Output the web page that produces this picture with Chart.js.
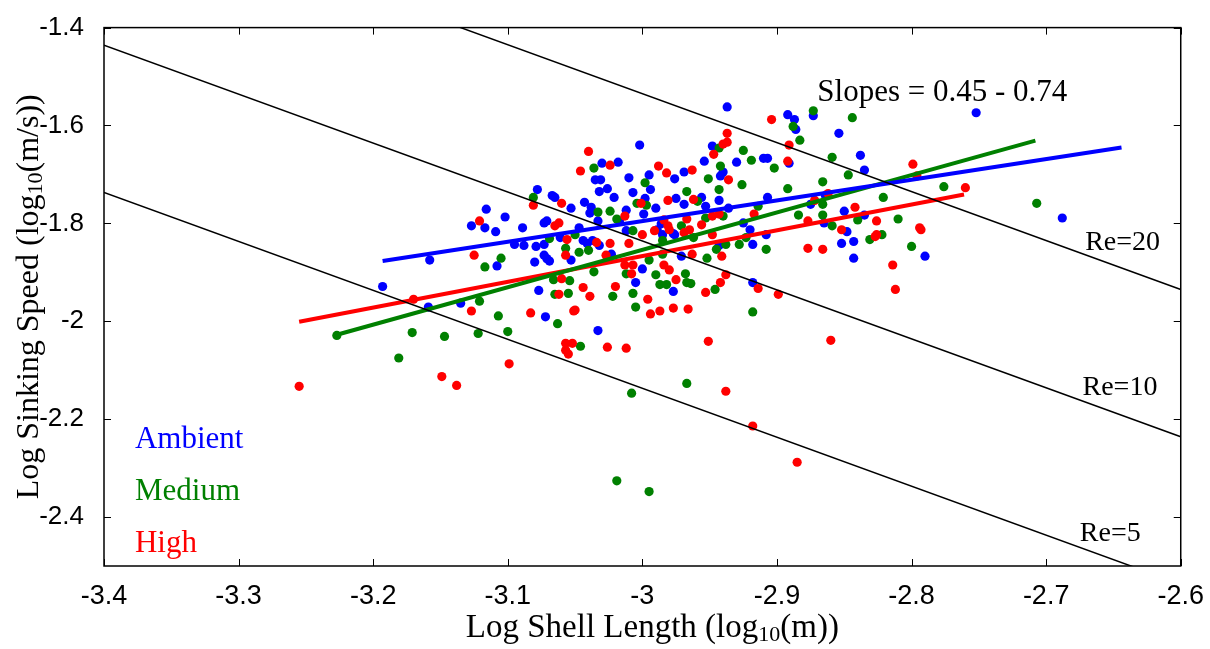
<!DOCTYPE html>
<html>
<head>
<meta charset="utf-8">
<script src="https://cdn.jsdelivr.net/npm/chart.js@4.4.1/dist/chart.umd.min.js"></script>
<style>
  body { margin: 0; background: #fff; }
  #wrap { width: 1210px; height: 649px; }
</style>
</head>
<body>
<div id="wrap"><canvas id="grafico"></canvas></div>
<script>
// valores (log10 de longitud y velocidad)

const xTicks = [-3.4, -3.3, -3.2, -3.1, -3.0, -2.9, -2.8, -2.7, -2.6];
const yTicks = [-2.4, -2.2, -2.0, -1.8, -1.6, -1.4];

const ambientX = [-3.193,-3.158,-3.116,-3.102,-3.127,-3.117,-3.109,-3.089,-3.078,-3.067,-3.065,-3.053,-3.073,-3.071,-3.095,-3.088,-3.079,-3.073,-3.080,-3.073,-3.069,-3.108,-3.053,-3.061,-2.937,-3.002,-2.948,-2.954,-2.930,-2.910,-3.030,-3.018,-2.969,-2.940,-3.035,-3.031,-3.010,-2.995,-2.976,-2.942,-3.026,-3.032,-3.007,-2.994,-3.021,-2.998,-3.043,-2.975,-2.956,-2.943,-3.038,-3.012,-2.990,-2.969,-2.953,-2.936,-3.039,-3.033,-2.999,-3.017,-2.986,-2.925,-3.047,-3.012,-3.044,-3.037,-2.976,-2.918,-2.908,-2.892,-2.887,-2.873,-2.886,-2.854,-2.907,-2.891,-2.838,-2.835,-2.907,-2.875,-2.864,-2.850,-2.835,-2.865,-2.848,-2.843,-2.852,-2.752,-2.843,-2.790,-2.688,-3.071,-3.135,-3.159,-3.077,-3.072,-3.033,-3.023,-3.000,-3.005,-2.920,-2.971,-2.977,-2.918,-3.041,-3.032,-2.989,-2.985,-2.977,-2.943];
const ambientY = [-1.929,-1.875,-1.771,-1.787,-1.805,-1.809,-1.817,-1.809,-1.731,-1.743,-1.747,-1.769,-1.799,-1.795,-1.843,-1.845,-1.847,-1.843,-1.879,-1.865,-1.877,-1.887,-1.875,-1.829,-1.562,-1.640,-1.642,-1.673,-1.675,-1.667,-1.677,-1.675,-1.695,-1.695,-1.711,-1.711,-1.707,-1.701,-1.709,-1.703,-1.729,-1.735,-1.737,-1.731,-1.747,-1.749,-1.757,-1.749,-1.747,-1.753,-1.767,-1.773,-1.769,-1.761,-1.765,-1.769,-1.779,-1.795,-1.781,-1.795,-1.801,-1.799,-1.809,-1.815,-1.835,-1.835,-1.823,-1.843,-1.823,-1.578,-1.588,-1.580,-1.608,-1.616,-1.667,-1.677,-1.661,-1.691,-1.747,-1.761,-1.743,-1.775,-1.783,-1.799,-1.817,-1.837,-1.841,-1.574,-1.871,-1.867,-1.789,-1.872,-1.963,-1.971,-1.937,-1.991,-2.019,-1.863,-1.893,-1.921,-1.813,-1.867,-1.939,-1.921,-1.841,-1.845,-1.813,-1.823,-1.821,-1.845];

const mediumX = [-3.081,-3.105,-3.117,-3.066,-3.054,-3.069,-3.227,-3.181,-3.171,-3.147,-3.122,-3.121,-3.107,-3.100,-3.065,-3.055,-3.063,-3.057,-3.047,-3.040,-3.036,-3.046,-3.022,-3.007,-3.005,-2.990,-2.987,-3.012,-2.995,-2.982,-2.968,-2.967,-2.964,-2.946,-2.918,-2.967,-3.008,-3.019,-2.995,-2.928,-2.908,-2.945,-2.952,-2.938,-2.831,-2.822,-2.800,-2.985,-3.036,-2.998,-2.967,-2.959,-2.951,-2.942,-2.943,-2.925,-2.919,-2.926,-2.943,-3.024,-3.033,-3.019,-3.004,-2.997,-2.940,-2.914,-3.050,-3.007,-2.971,-2.953,-2.923,-2.985,-2.962,-2.873,-2.844,-2.888,-2.883,-2.902,-2.859,-2.847,-2.866,-2.892,-2.821,-2.866,-2.884,-2.866,-2.859,-2.840,-2.810,-2.776,-2.707];
const mediumY = [-1.747,-1.871,-1.889,-1.915,-1.917,-1.831,-2.029,-2.075,-2.023,-2.031,-2.025,-1.959,-1.989,-2.021,-1.945,-1.943,-2.005,-1.851,-1.859,-1.855,-1.899,-2.051,-1.949,-1.943,-1.971,-1.905,-1.925,-1.903,-1.875,-1.925,-1.903,-1.921,-1.923,-1.935,-1.981,-2.127,-2.147,-2.326,-2.348,-1.843,-1.853,-1.853,-1.871,-1.843,-1.833,-1.823,-1.847,-1.863,-1.687,-1.717,-1.735,-1.755,-1.709,-1.683,-1.646,-1.651,-1.671,-1.721,-1.731,-1.775,-1.777,-1.791,-1.759,-1.763,-1.785,-1.765,-1.823,-1.815,-1.805,-1.789,-1.829,-1.835,-1.829,-1.570,-1.584,-1.602,-1.630,-1.687,-1.665,-1.701,-1.715,-1.729,-1.747,-1.761,-1.783,-1.783,-1.805,-1.793,-1.791,-1.725,-1.759];

const highX = [-3.121,-3.125,-3.081,-3.060,-3.062,-3.065,-3.056,-3.057,-3.060,-3.255,-3.170,-3.127,-3.149,-3.138,-3.099,-3.083,-3.062,-3.050,-3.057,-3.052,-3.057,-3.055,-3.034,-3.024,-3.027,-3.044,-3.039,-3.051,-3.020,-2.996,-2.994,-2.987,-3.013,-3.007,-3.008,-3.026,-3.012,-2.977,-2.966,-2.975,-2.953,-2.942,-2.938,-2.914,-2.899,-2.951,-2.860,-2.938,-2.918,-2.885,-2.877,-2.866,-2.827,-2.793,-2.814,-2.812,-2.941,-2.963,-2.984,-2.980,-2.980,-2.965,-3.040,-3.046,-3.024,-2.988,-2.982,-2.963,-2.937,-2.937,-2.940,-2.947,-2.936,-2.981,-2.962,-3.001,-3.013,-2.967,-2.948,-2.943,-2.956,-2.984,-2.981,-2.991,-3.000,-3.010,-2.969,-2.948,-2.917,-2.904,-2.891,-2.892,-2.799,-2.796,-2.862,-2.872,-2.842,-2.877,-2.826,-2.852,-2.794,-2.826,-2.760];
const highY = [-1.795,-1.865,-1.763,-1.759,-1.799,-1.805,-1.833,-1.865,-1.913,-2.133,-1.955,-1.979,-2.113,-2.131,-2.087,-1.983,-1.945,-1.977,-2.045,-2.045,-2.059,-2.067,-1.839,-1.841,-1.865,-1.931,-1.949,-1.979,-1.929,-1.955,-1.985,-1.979,-1.885,-1.885,-1.903,-2.053,-2.055,-1.973,-1.975,-1.915,-1.941,-1.921,-1.905,-1.933,-1.945,-2.041,-2.039,-2.143,-2.214,-2.288,-1.851,-1.853,-1.827,-1.813,-1.885,-1.935,-1.867,-1.863,-1.885,-1.895,-1.813,-1.813,-1.653,-1.693,-1.681,-1.683,-1.697,-1.691,-1.616,-1.634,-1.638,-1.659,-1.711,-1.753,-1.751,-1.759,-1.785,-1.791,-1.785,-1.781,-1.803,-1.793,-1.805,-1.815,-1.823,-1.841,-1.819,-1.823,-1.781,-1.588,-1.640,-1.673,-1.679,-1.703,-1.739,-1.753,-1.767,-1.795,-1.795,-1.813,-1.809,-1.823,-1.727];

// rectas de ajuste (extremos)
const ajusteAmbientX = [-3.193, -2.644];
const ajusteAmbientY = [-1.877, -1.645];
const ajusteMediumX = [-3.229, -2.708];
const ajusteMediumY = [-2.029, -1.631];
const ajusteHighX = [-3.255, -2.761];
const ajusteHighY = [-2.001, -1.741];

// lineas de Reynolds constante
const reX = [-3.4, -2.6];
const re20Y = [-1.135, -1.935];
const re10Y = [-1.436, -2.236];
const re5Y = [-1.737, -2.537];

const AZUL = "#0000ff";
const VERDE = "#008000";
const ROJO = "#ff0000";

const SERIF = "'Liberation Serif', 'Times New Roman', serif";
const SANS = "'Liberation Sans', Arial, sans-serif";

function puntos(xs, ys) {
  return xs.map((x, i) => ({ x: x, y: ys[i] }));
}

function nubePuntos(xs, ys, color, orden) {
  return {
    data: puntos(xs, ys),
    showLine: false,
    pointRadius: 4.6,
    pointHoverRadius: 4.6,
    pointBackgroundColor: color,
    pointBorderWidth: 0,
    order: orden
  };
}

function recta(xs, ys, color, ancho, orden) {
  return {
    data: puntos(xs, ys),
    showLine: true,
    borderColor: color,
    borderWidth: ancho,
    pointRadius: 0,
    fill: false,
    order: orden
  };
}

// textos sobre el grafico, en coordenadas de datos
const textos = [
  { t: "Slopes = 0.45 - 0.74", x: -2.870, y: -1.534, c: "#000", s: 31 },
  { t: "Re=20", x: -2.671, y: -1.839, c: "#000", s: 28 },
  { t: "Re=10", x: -2.673, y: -2.135, c: "#000", s: 28 },
  { t: "Re=5", x: -2.675, y: -2.434, c: "#000", s: 28 },
  { t: "Ambient", x: -3.377, y: -2.242, c: AZUL, s: 31 },
  { t: "Medium", x: -3.377, y: -2.348, c: VERDE, s: 31 },
  { t: "High", x: -3.377, y: -2.454, c: ROJO, s: 31 }
];

function textoConSubindice(ctx, partes, x, y, tam) {
  // partes: [texto normal, subindice, texto normal]
  ctx.font = tam + "px " + SERIF;
  const w0 = ctx.measureText(partes[0]).width;
  const w2 = ctx.measureText(partes[2]).width;
  ctx.font = Math.round(tam * 0.68) + "px " + SERIF;
  const w1 = ctx.measureText(partes[1]).width;
  let cx = x - (w0 + w1 + w2) / 2;
  ctx.textBaseline = "alphabetic";
  ctx.textAlign = "left";
  ctx.font = tam + "px " + SERIF;
  ctx.fillText(partes[0], cx, y);
  cx += w0;
  ctx.font = Math.round(tam * 0.68) + "px " + SERIF;
  ctx.fillText(partes[1], cx, y + tam * 0.12);
  cx += w1;
  ctx.font = tam + "px " + SERIF;
  ctx.fillText(partes[2], cx, y);
}

const marcoPlugin = {
  id: "marco",
  afterDraw(chart) {
    const ctx = chart.ctx;
    const a = chart.chartArea;
    const sx = chart.scales.x;
    const sy = chart.scales.y;
    ctx.save();
    ctx.strokeStyle = "#000";
    ctx.lineWidth = 1.5;
    ctx.strokeRect(a.left, a.top, a.right - a.left, a.bottom - a.top);
    ctx.lineWidth = 1;
    const L = 7;
    ctx.beginPath();
    for (const v of xTicks) {
      const px = Math.round(sx.getPixelForValue(v)) + 0.5;
      ctx.moveTo(px, a.bottom); ctx.lineTo(px, a.bottom - L);
      ctx.moveTo(px, a.top); ctx.lineTo(px, a.top + L);
    }
    for (const v of yTicks) {
      const py = Math.round(sy.getPixelForValue(v)) + 0.5;
      ctx.moveTo(a.left, py); ctx.lineTo(a.left + L, py);
      ctx.moveTo(a.right, py); ctx.lineTo(a.right - L, py);
    }
    ctx.stroke();

    ctx.textBaseline = "middle";
    ctx.textAlign = "left";
    for (const e of textos) {
      ctx.font = e.s + "px " + SERIF;
      ctx.fillStyle = e.c;
      ctx.fillText(e.t, sx.getPixelForValue(e.x), sy.getPixelForValue(e.y));
    }

    ctx.fillStyle = "#000";
    textoConSubindice(ctx, ["Log Shell Length (log", "10", "(m))"], (a.left + a.right) / 2 + 10, 637, 33);
    ctx.translate(38, (a.top + a.bottom) / 2);
    ctx.rotate(-Math.PI / 2);
    textoConSubindice(ctx, ["Log Sinking Speed (log", "10", "(m/s))"], 0, 0, 32);
    ctx.restore();
  }
};

function etiqueta(v) {
  return String(Number(v.toFixed(1)));
}

new Chart(document.getElementById("grafico"), {
  type: "scatter",
  data: {
    datasets: [
      recta(reX, re20Y, "#000", 1.5, 0),
      recta(reX, re10Y, "#000", 1.5, 0),
      recta(reX, re5Y, "#000", 1.5, 0),
      recta(ajusteAmbientX, ajusteAmbientY, AZUL, 4, 1),
      recta(ajusteMediumX, ajusteMediumY, VERDE, 4, 1),
      recta(ajusteHighX, ajusteHighY, ROJO, 4, 1),
      nubePuntos(highX, highY, ROJO, 2),
      nubePuntos(mediumX, mediumY, VERDE, 3),
      nubePuntos(ambientX, ambientY, AZUL, 4)
    ]
  },
  options: {
    responsive: true,
    maintainAspectRatio: false,
    animation: false,
    layout: { padding: { left: 0, right: 22, top: 15, bottom: 0 } },
    plugins: {
      legend: { display: false },
      tooltip: { enabled: false }
    },
    scales: {
      x: {
        type: "linear",
        min: -3.4,
        max: -2.6,
        grid: { display: false },
        border: { display: false },
        afterBuildTicks: s => { s.ticks = xTicks.map(v => ({ value: v })); },
        afterFit: s => { s.height = 83; },
        ticks: {
          callback: v => etiqueta(v),
          color: "#000",
          font: { family: SANS, size: 27 },
          padding: 6,
          maxRotation: 0
        }
      },
      y: {
        type: "linear",
        min: -2.5,
        max: -1.4,
        grid: { display: false },
        border: { display: false },
        afterBuildTicks: s => { s.ticks = yTicks.map(v => ({ value: v })); },
        afterFit: s => { s.width = 104; },
        ticks: {
          callback: v => etiqueta(v),
          color: "#000",
          font: { family: SANS, size: 26 },
          padding: 12
        }
      }
    }
  },
  plugins: [marcoPlugin]
});
</script>
</body>
</html>
